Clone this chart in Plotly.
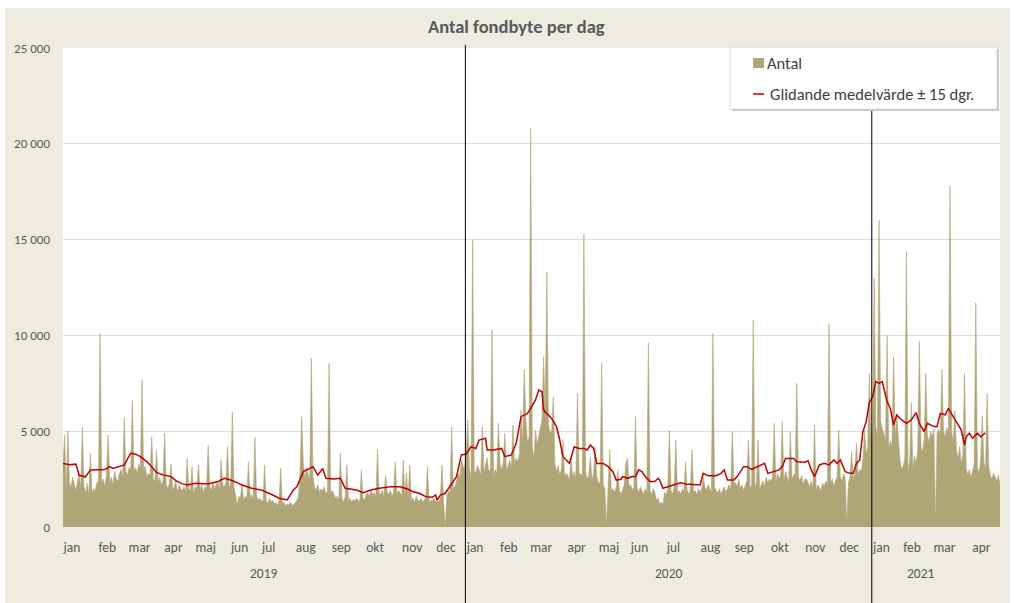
import plotly.graph_objects as go

# ---------------- data ----------------
month_names = ["jan", "feb", "mar", "apr", "maj", "jun", "jul", "aug", "sep", "okt", "nov", "dec"]
years = ["2019", "2020", "2021"]

# Antal fondbyte per business day, month by month
jan19 = [3200, 4800, 1700, 5000, 2300, 2100, 2600, 2200, 1900, 2400, 2800, 2000, 5200, 2100, 1800, 2300, 1600, 3850, 1700, 2000, 1900, 2300]
feb19 = [2400, 10100, 2300, 2500, 2100, 2800, 4800, 2300, 2600, 2200, 2900, 2500, 2400, 2800, 3000, 2600, 5700, 2900, 2700, 3100]
mar19 = [3000, 6600, 2900, 3100, 2800, 3300, 3000, 7700, 2900, 3200, 2600, 2800, 2700, 4700, 2500, 2400, 4000, 2300, 2600, 2200, 2400]
apr19 = [4900, 2200, 2000, 2300, 3300, 1900, 2100, 2400, 1800, 2200, 2000, 1900, 2100, 1800, 3580, 2000, 1900, 3150, 1700, 2100]
maj19 = [2000, 3240, 1900, 2200, 1800, 2100, 2000, 4280, 2100, 1900, 2300, 2000, 2200, 2400, 1900, 3500, 2200, 2100, 2300, 4190, 2000]
jun19 = [2300, 6000, 2100, 1700, 1150, 1600, 1500, 2280, 1400, 1600, 1500, 3400, 1500, 1700, 1400, 4700, 1600, 1400]
jul19 = [1500, 1400, 1300, 3240, 1400, 1200, 1500, 1300, 1400, 1200, 1300, 1100, 1400, 3060, 1200, 1300, 1100, 1200, 1150, 1300, 1100, 1200, 1250]
aug19 = [1400, 1600, 2900, 5760, 3300, 2500, 3100, 2800, 2400, 8800, 2600, 2100, 1900, 2200, 1800, 2000, 1900, 2100, 1700, 1900, 8540, 1800]
sep19 = [1900, 1700, 1500, 1600, 1400, 3850, 1500, 1300, 1600, 3240, 1400, 1500, 1300, 1450, 1350, 1500, 1400, 1300, 2980, 1500, 1400]
okt19 = [1700, 1800, 1600, 1900, 1700, 1800, 1600, 4020, 1800, 1700, 1900, 1600, 2710, 1800, 1700, 1900, 1600, 1800, 3400, 1700, 1900, 1800, 1600]
nov19 = [3500, 1600, 2800, 1500, 3240, 1400, 1500, 1300, 1600, 1400, 1350, 1500, 1300, 1400, 1550, 3150, 1300, 1400, 1350, 1500, 1300]
dec19 = [1400, 1300, 1500, 3240, 1300, 20, 1600, 1900, 1800, 5240, 2000, 2100, 2400, 2800, 2600, 3500, 3200, 3000]
jan20 = [3900, 5590, 3000, 2600, 15000, 2800, 2900, 3200, 3000, 2700, 5240, 2800, 3300, 3600, 2900, 3000, 10300, 2600, 3000, 2800, 5410]
feb20 = [3300, 3000, 3400, 4890, 2900, 3200, 3500, 3100, 5320, 3300, 3600, 3400, 3800, 6100, 4300, 8200, 5590, 4400, 4700, 20800]
mar20 = [4200, 3600, 5060, 4300, 4800, 5200, 5600, 8890, 5900, 13300, 5400, 4900, 5000, 6800, 3300, 2900, 3200, 2700, 3000, 4540, 2600, 2800]
apr20 = [2700, 2400, 3670, 2600, 2900, 2500, 6980, 2700, 2800, 2600, 15300, 2900, 2500, 2700, 3670, 2400, 2800, 4190, 2600, 2300]
maj20 = [2300, 8540, 2200, 2000, 30, 2100, 4020, 1900, 2000, 1800, 2100, 2980, 1900, 1700, 2000, 2200, 3320, 3580, 2100]
jun20 = [2200, 1900, 2100, 5760, 2000, 1800, 2100, 1900, 1700, 2000, 1800, 9600, 1900, 1700, 2000, 1800, 1400, 1500, 1200, 1300, 1150]
jul20 = [1800, 1700, 2000, 5060, 1900, 1700, 2100, 4540, 1800, 1900, 1700, 2000, 1800, 3400, 1900, 1700, 2000, 4020, 1800, 1900, 1700, 2000, 1800]
aug20 = [2000, 2600, 2100, 1900, 2200, 2000, 1800, 10100, 2100, 1900, 1800, 2000, 1700, 1900, 2100, 1800, 2000, 2200, 1900, 4980, 2300]
sep20 = [2300, 2100, 2500, 2000, 2200, 1900, 2100, 2400, 4540, 2000, 2200, 10800, 2100, 2300, 4540, 2000, 2200, 2400, 2100, 2600, 2300, 2500]
okt20 = [2400, 2600, 5410, 2300, 2800, 2500, 2700, 5500, 2400, 2900, 2600, 2300, 4980, 2500, 2700, 2800, 7500, 2600, 2400, 2700, 2200, 2500]
nov20 = [2500, 2300, 2100, 2400, 2000, 5320, 1900, 2200, 2000, 1900, 2300, 2100, 2400, 2200, 10600, 2300, 2500, 2100, 2400, 2600, 5060]
dec20 = [2600, 2400, 2800, 2500, 200, 2300, 2600, 3930, 2500, 2800, 4370, 2700, 3000, 2900, 3500, 5060, 3800, 4200, 8000, 4400]
jan21 = [5000, 13000, 5200, 4800, 16000, 5500, 5100, 4900, 4500, 10000, 4100, 4500, 4200, 8890, 4600, 5760, 4400, 3500, 3000]
feb21 = [3200, 3600, 14370, 2900, 3400, 6500, 3000, 3700, 3300, 4000, 9700, 4200, 3900, 4600, 8020, 4800, 4400, 5000, 4700, 5100]
mar21 = [200, 4900, 5100, 4800, 8200, 5000, 4700, 5200, 4900, 17800, 5000, 4400, 6100, 4000, 3600, 4200, 3300, 3800, 8000, 3100, 2700, 3000, 2600]
apr21 = [2900, 3300, 11700, 3100, 2800, 3500, 5800, 3400, 3000, 6980, 3200, 2700, 2500, 2800, 2600, 2400, 2700, 2200]

# Glidande medelvärde ± 15 dgr. (business-day number, value)
ma_day = [0, 4, 8, 10, 14, 17, 26, 29, 31, 38, 42, 45, 48, 52, 55, 58, 62, 67, 70, 74, 77, 82, 90, 96, 100, 104, 109, 111, 117, 123,
          130, 134, 139, 141, 143, 145, 149, 153, 155, 158, 161, 163, 168, 172, 175, 182, 186, 191, 196, 203, 209, 214, 217, 221, 225,
          229, 231, 232, 234, 237, 241, 244, 247, 250, 253, 256, 258, 262, 263, 267, 272, 274, 278, 281, 284, 288, 290, 293, 295, 297,
          298, 301, 303, 306, 308, 310, 312, 314, 317, 320, 323, 325, 327, 329, 331, 335, 338, 341, 343, 346, 347, 350, 353, 355, 357,
          359, 361, 364, 367, 369, 370, 372, 375, 378, 381, 383, 386, 390, 395, 397, 400, 405, 408, 410, 412, 416, 418, 422, 424, 427,
          431, 435, 437, 441, 444, 446, 448, 453, 455, 460, 462, 464, 466, 469, 472, 475, 478, 480, 482, 485, 488, 490, 492, 494, 496,
          498, 500, 502, 504, 506, 508, 511, 513, 515, 517, 520, 523, 526, 529, 531, 534, 536, 540, 542, 544, 547, 549, 552, 554, 557,
          559, 560, 562, 564, 567, 569, 572]
ma_value = [3320, 3250, 3280, 2700, 2620, 2980, 3000, 3150, 3060, 3240, 3850, 3800, 3670, 3410, 3150, 2850, 2720, 2630, 2420, 2250,
            2190, 2280, 2240, 2370, 2540, 2450, 2280, 2190, 2020, 1930, 1670, 1500, 1410, 1700, 1950, 2100, 2890, 3060, 3150, 2710,
            3060, 2540, 2500, 2540, 2020, 1930, 1790, 1930, 2020, 2100, 2100, 1970, 1840, 1760, 1580, 1550, 1670, 1410, 1670, 1760,
            2280, 2630, 3760, 3810, 4190, 4100, 4540, 4630, 4020, 4020, 4100, 3670, 3760, 4370, 5760, 5930, 6190, 6630, 7150, 7060,
            6100, 5850, 5670, 5240, 4540, 3670, 3500, 3320, 4190, 4100, 4100, 4020, 4280, 4100, 3320, 3320, 3150, 2890, 2450, 2490,
            2630, 2540, 2630, 2630, 2980, 2890, 2630, 2370, 2370, 2540, 2450, 2020, 2100, 2190, 2280, 2310, 2240, 2230, 2190, 2800,
            2680, 2680, 2800, 2980, 2450, 2450, 2630, 3150, 3150, 3010, 3150, 3320, 2800, 2890, 2980, 3150, 3580, 3580, 3410, 3380,
            3460, 2980, 2630, 3240, 3320, 3240, 3500, 3320, 3500, 2890, 2800, 2800, 3320, 3500, 4980, 5500, 6500, 6800, 7590, 7500,
            7590, 6540, 6190, 5320, 5850, 5590, 5410, 5590, 5970, 5410, 4980, 5410, 5240, 5240, 5930, 5850, 6190, 5760, 5500, 5060,
            4280, 4710, 4890, 4630, 4890, 4710, 4920]

series_by_month = [
    ("2019", "jan", jan19), ("2019", "feb", feb19), ("2019", "mar", mar19), ("2019", "apr", apr19),
    ("2019", "maj", maj19), ("2019", "jun", jun19), ("2019", "jul", jul19), ("2019", "aug", aug19),
    ("2019", "sep", sep19), ("2019", "okt", okt19), ("2019", "nov", nov19), ("2019", "dec", dec19),
    ("2020", "jan", jan20), ("2020", "feb", feb20), ("2020", "mar", mar20), ("2020", "apr", apr20),
    ("2020", "maj", maj20), ("2020", "jun", jun20), ("2020", "jul", jul20), ("2020", "aug", aug20),
    ("2020", "sep", sep20), ("2020", "okt", okt20), ("2020", "nov", nov20), ("2020", "dec", dec20),
    ("2021", "jan", jan21), ("2021", "feb", feb21), ("2021", "mar", mar21), ("2021", "apr", apr21),
]

# ---------------- build day index ----------------
antal = []
tick_vals, tick_text = [], []
year_start, year_end = {}, {}
for yr, mon, vals in series_by_month:
    start = len(antal)
    tick_vals.append(start + 5.5)
    tick_text.append(mon)
    year_start.setdefault(yr, start)
    antal.extend(vals)
    year_end[yr] = len(antal) - 1
days = list(range(len(antal)))
N = len(antal)

# ---------------- layout geometry (pixels) ----------------
W, H = 1014, 603
L, R, T, B = 63, 1000, 48, 527
def px_x(px):
    return (px - L) / (R - L)
def px_y(py):
    return (B - py) / (B - T)

FONT = "Carlito, Calibri, Lato, 'Open Sans', sans-serif"
TXT = "#595959"
TAN = "#B0A577"
RED = "#C00000"
BEIGE = "#EEEBE1"

fig = go.Figure()
fig.add_trace(go.Scatter(x=days, y=antal, mode="lines", line=dict(color=TAN, width=0.6),
                         fill="tozeroy", fillcolor=TAN, name="Antal", showlegend=False,
                         hoverinfo="skip"))
fig.add_trace(go.Scatter(x=ma_day, y=ma_value, mode="lines", line=dict(color=RED, width=1.5),
                         name="Glidande medelvärde ± 15 dgr.", showlegend=False, hoverinfo="skip"))

shapes = []
# white strips outside the beige frame
shapes.append(dict(type="rect", xref="paper", yref="paper", x0=px_x(0), x1=px_x(5), y0=px_y(H), y1=px_y(0),
                   fillcolor="white", line=dict(width=0), layer="below"))
shapes.append(dict(type="rect", xref="paper", yref="paper", x0=px_x(0), x1=px_x(W), y0=px_y(8), y1=px_y(0),
                   fillcolor="white", line=dict(width=0), layer="below"))
shapes.append(dict(type="rect", xref="paper", yref="paper", x0=px_x(1010), x1=px_x(W), y0=px_y(H), y1=px_y(0),
                   fillcolor="white", line=dict(width=0), layer="below"))
# year dividers
for i, yr in enumerate(years[1:]):
    xd = year_start[yr] - 0.5
    shapes.append(dict(type="line", xref="x", yref="paper", x0=xd, x1=xd,
                       y0=px_y(H + 2), y1=px_y(45) if i == 0 else 1.0,
                       line=dict(color="black", width=1), layer="above"))
# legend box (shadow + box)
shapes.append(dict(type="rect", xref="paper", yref="paper", x0=px_x(732), x1=px_x(999), y0=px_y(111), y1=px_y(49),
                   fillcolor="#C8C8C8", line=dict(width=0), layer="above"))
shapes.append(dict(type="rect", xref="paper", yref="paper", x0=px_x(730), x1=px_x(997), y0=px_y(109), y1=px_y(47),
                   fillcolor="white", line=dict(color="#D9D9D9", width=1), layer="above"))
shapes.append(dict(type="rect", xref="paper", yref="paper", x0=px_x(753), x1=px_x(764), y0=px_y(68), y1=px_y(58),
                   fillcolor=TAN, line=dict(width=0), layer="above"))
shapes.append(dict(type="line", xref="paper", yref="paper", x0=px_x(753), x1=px_x(764), y0=px_y(94), y1=px_y(94),
                   line=dict(color=RED, width=1.5), layer="above"))

annotations = [
    dict(text="<b>Antal fondbyte per dag</b>", x=px_x(516), y=px_y(27), xref="paper", yref="paper",
         showarrow=False, font=dict(family=FONT, size=18.5, color=TXT), xanchor="center", yanchor="middle"),
    dict(text="Antal", x=px_x(765), y=px_y(63), xref="paper", yref="paper", showarrow=False,
         font=dict(family=FONT, size=16.5, color="#404040"), xanchor="left", yanchor="middle"),
    dict(text="Glidande medelvärde ± 15 dgr.", x=px_x(768), y=px_y(94), xref="paper", yref="paper", showarrow=False,
         font=dict(family=FONT, size=16.5, color="#404040"), xanchor="left", yanchor="middle"),
]
year_label_x = [(year_start[y] + year_end[y]) / 2 for y in years]
year_label_x[-1] = year_start[years[-1]] + 30
for yr, xl in zip(years, year_label_x):
    annotations.append(dict(text=yr, x=xl, y=px_y(573), xref="x", yref="paper", showarrow=False,
                            font=dict(family=FONT, size=13.5, color=TXT), xanchor="center", yanchor="middle"))

fig.update_layout(
    width=W, height=H,
    margin=dict(l=L, r=W - R, t=T, b=H - B, pad=0),
    paper_bgcolor=BEIGE, plot_bgcolor="white",
    separators=", ",
    showlegend=False,
    shapes=shapes, annotations=annotations,
    font=dict(family=FONT, color=TXT, size=13),
)
fig.update_xaxes(range=[0, N - 1], tickvals=tick_vals, ticktext=tick_text, showgrid=False, zeroline=False,
                 showline=False, ticks="", ticklabelstandoff=10, tickfont=dict(family=FONT, size=13.5, color=TXT))
fig.update_yaxes(range=[0, 25000], tickvals=[0, 5000, 10000, 15000, 20000, 25000], tickformat=",d",
                 showgrid=True, gridcolor="#DCDCDC", gridwidth=1.2, zeroline=False, showline=False,
                 ticks="", ticklabelstandoff=12, tickfont=dict(family=FONT, size=13, color=TXT))

fig.write_html("out.html", config={"displayModeBar": False},
               post_script="document.body.style.margin='0';document.body.style.overflow='hidden';")
